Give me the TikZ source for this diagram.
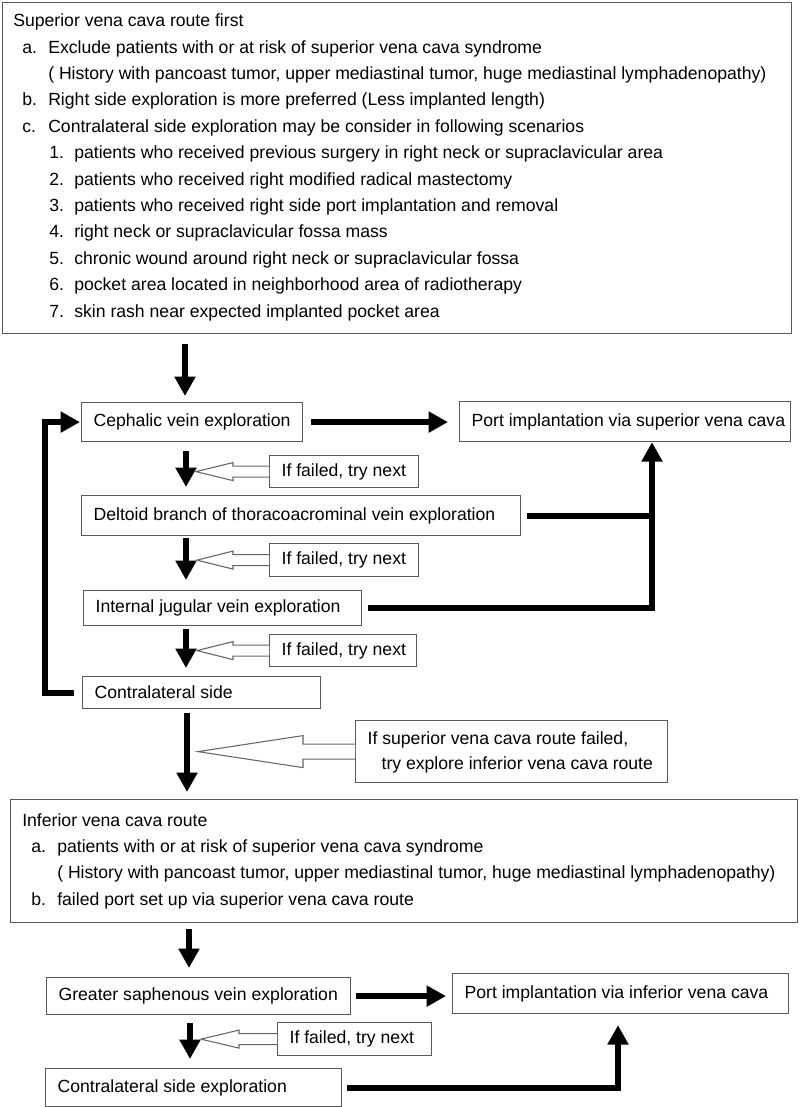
\documentclass[tikz,border=0pt]{standalone}
\usepackage{fontspec}
\setmainfont{Liberation Sans}
\usetikzlibrary{arrows.meta,calc}
\newcommand{\bx}[6]{%
  \pgfmathsetmacro\bxtw{(#4-24)*0.75}%
  \pgfmathsetmacro\bxw{#4*0.75}%
  \pgfmathsetmacro\bxh{#5*0.75}%
  \node[box, anchor=north west, minimum width=\bxw pt, minimum height=\bxh pt] (#1) at (#2,#3) {\makebox[\bxtw pt][l]{#6}};}
\newcommand{\hollowarr}[5]{%
  \draw[hol] ($(#1.west)+(0,-#4)$) -- ++({-(#2-#3)},0) -- ++(0,{-(#5-#4)}) -- ++(-#3,#5) -- ++(#3,#5) -- ++(0,{-(#5-#4)}) -- ($(#1.west)+(0,#4)$);}
\begin{document}
\begin{tikzpicture}[x=0.75pt,y=-0.75pt,
  box/.style={draw=black!65, line width=0.9pt, fill=white, inner xsep=9pt, inner ysep=0pt,
    font=\fontsize{13.22}{18.75}\selectfont},
  txt/.style={anchor=base west, inner sep=0pt, font=\fontsize{13.22}{18.75}\selectfont},
  arr/.style={line width=4.5pt, -{Triangle[width=15pt,length=14.5pt]}},
  conn/.style={line width=4.5pt},
  hol/.style={draw=black!60, fill=white, line width=0.8pt, line join=miter}]
\useasboundingbox (0,0) rectangle (800,1107);
\fill[white] (0,0) rectangle (800,1107);

% ---------- top box ----------
\node[box, anchor=north west, minimum width=591.75pt, minimum height=248.25pt] (topbox) at (2,2) {};
\node[txt] (s0) at (13,26.7) {Superior vena cava route first};
\node[txt] (s1) at (22,53.1) {\makebox[19.5pt][l]{a.}Exclude patients with or at risk of superior vena cava syndrome};
\node[txt] (s2) at (48,79.5) {( History with pancoast tumor, upper mediastinal tumor, huge mediastinal lymphadenopathy)};
\node[txt] (s3) at (22,105.9) {\makebox[19.5pt][l]{b.}Right side exploration is more preferred (Less implanted length)};
\node[txt] (s4) at (22,132.3) {\makebox[19.5pt][l]{c.}Contralateral side exploration may be consider in following scenarios};
\node[txt] (s5) at (49,158.7) {\makebox[18.75pt][l]{1.}patients who received previous surgery in right neck or supraclavicular area};
\node[txt] (s6) at (49,185.1) {\makebox[18.75pt][l]{2.}patients who received right modified radical mastectomy};
\node[txt] (s7) at (49,211.5) {\makebox[18.75pt][l]{3.}patients who received right side port implantation and removal};
\node[txt] (s8) at (49,237.9) {\makebox[18.75pt][l]{4.}right neck or supraclavicular fossa mass};
\node[txt] (s9) at (49,264.3) {\makebox[18.75pt][l]{5.}chronic wound around right neck or supraclavicular fossa};
\node[txt] (s10) at (49,290.7) {\makebox[18.75pt][l]{6.}pocket area located in neighborhood area of radiotherapy};
\node[txt] (s11) at (49,317.1) {\makebox[18.75pt][l]{7.}skin rash near expected implanted pocket area};

% ---------- superior route boxes ----------
\bx{ceph}{81}{402}{221}{39}{Cephalic vein exploration}
\bx{portS}{459}{401}{331}{40}{Port implantation via superior vena cava}
\bx{delt}{81}{495}{439}{40}{Deltoid branch of thoracoacrominal vein exploration}
\bx{intj}{83}{590}{278}{35}{Internal jugular vein exploration}
\bx{contra}{82}{676}{238}{32}{Contralateral side}
\bx{f1}{269}{455}{149}{32}{If failed, try next}
\bx{f2}{269}{543}{149}{33}{If failed, try next}
\bx{f3}{269}{634}{147}{32}{If failed, try next}
\bx{fbig}{355}{720}{312}{62}{\begin{tabular}{@{}l@{}}If superior vena cava route failed,\\\hspace{10.5pt}try explore inferior vena cava route\end{tabular}}

% ---------- inferior box ----------
\node[box, anchor=north west, minimum width=590.25pt, minimum height=92.25pt] (infbox) at (10,799) {};
\node[txt] (i0) at (22,826) {Inferior vena cava route};
\node[txt] (i1) at (31,852) {\makebox[19.5pt][l]{a.}patients with or at risk of superior vena cava syndrome};
\node[txt] (i2) at (57,878.5) {( History with pancoast tumor, upper mediastinal tumor, huge mediastinal lymphadenopathy)};
\node[txt] (i3) at (31,905) {\makebox[19.5pt][l]{b.}failed port set up via superior vena cava route};

% ---------- inferior route boxes ----------
\bx{greater}{46}{977}{304}{37}{Greater saphenous vein exploration}
\bx{portI}{452}{973}{336}{40}{Port implantation via inferior vena cava}
\bx{f4}{277}{1022}{154}{33}{If failed, try next}
\bx{contraE}{45}{1068}{296}{38}{Contralateral side exploration}

% ---------- connectors ----------
\coordinate (v1) at (185,0);
\coordinate (v2) at (186,0);
\coordinate (v3) at (187,0);
\coordinate (v4) at (189,0);
\coordinate (v5) at (190,0);
\coordinate (vP) at (652,0);
\coordinate (vQ) at (618,0);

\draw[arr, shorten <=7.5pt, shorten >=4.5pt] (topbox.south -| v1) -- (ceph.north -| v1);
\draw[arr, shorten <=6pt, shorten >=8.25pt] (ceph.east) -- (ceph.east -| portS.west);
\draw[arr, shorten <=6.75pt, shorten >=6pt] (ceph.south -| v2) -- (delt.north -| v2);
\draw[arr, shorten <=1.5pt, shorten >=7.5pt] (delt.south -| v2) -- (intj.north -| v2);
\draw[arr, shorten <=2.25pt, shorten >=6pt] (intj.south -| v2) -- (contra.north -| v2);
\draw[conn, shorten <=4.5pt] (delt.east) -- (delt.east -| vP);
\draw[arr, shorten <=4.5pt] (intj.east) -| (portS.south -| vP);
\draw[arr, shorten <=6pt, shorten >=0.75pt] (contra.west) -- ++(-37,0) |- (ceph.west);
\draw[arr, shorten <=3pt, shorten >=5.25pt] (contra.south -| v3) -- (infbox.north -| v3);
\draw[arr, shorten <=4.5pt, shorten >=6.75pt] (infbox.south -| v4) -- (greater.north -| v4);
\draw[arr, shorten <=3.75pt, shorten >=4.5pt] (greater.east) -- (greater.east -| portI.west);
\draw[arr, shorten <=6pt, shorten >=6.75pt] (greater.south -| v5) -- (contraE.north -| v5);
\draw[arr, shorten <=3.75pt, shorten >=8.25pt] (contraE.east) -| (portI.south -| vQ);

\hollowarr{f1}{73}{37}{5.5}{9}
\hollowarr{f2}{72}{36}{5.5}{9}
\hollowarr{f3}{72}{36}{5.5}{9}
\hollowarr{f4}{76}{38}{5.5}{9}
\hollowarr{fbig}{157}{105}{7.5}{16}
\end{tikzpicture}
\end{document}
